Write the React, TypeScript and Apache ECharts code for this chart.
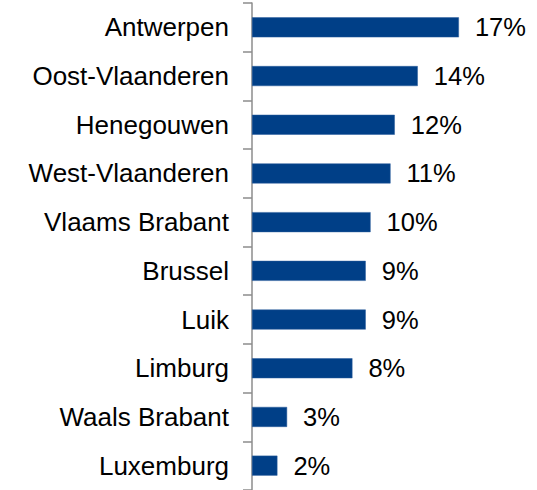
import React, { useEffect, useRef } from "react";
import * as echarts from "echarts";

const categories = [
  "Antwerpen",
  "Oost-Vlaanderen",
  "Henegouwen",
  "West-Vlaanderen",
  "Vlaams Brabant",
  "Brussel",
  "Luik",
  "Limburg",
  "Waals Brabant",
  "Luxemburg",
];
const values = [17.1, 13.7, 11.8, 11.45, 9.8, 9.4, 9.4, 8.3, 2.9, 2.1];

export default function App() {
  const ref = useRef<HTMLDivElement>(null);
  useEffect(() => {
    const chart = echarts.init(ref.current!, undefined, { renderer: "svg" });
    chart.setOption({
      animation: false,
      grid: { left: 252, right: 43, top: 3, bottom: 0, containLabel: false },
      xAxis: { type: "value", min: 0, max: 20, show: false },
      yAxis: {
        type: "category",
        inverse: true,
        data: categories,
        axisLine: { show: true, lineStyle: { color: "#8c8c8c", width: 1.5 } },
        axisTick: { show: true, length: 9, lineStyle: { color: "#8c8c8c", width: 1.5 } },
        axisLabel: {
          margin: 23,
          fontSize: 26,
          color: "#000",
          fontFamily: "Liberation Sans, Arial, sans-serif",
        },
        splitLine: { show: false },
      },
      series: [
        {
          type: "bar",
          data: values,
          barWidth: 20,
          itemStyle: { color: "#003F87", borderColor: "#2a5d9c", borderWidth: 0.5 },
          label: {
            show: true,
            position: "right",
            distance: 16,
            fontSize: 25.5,
            color: "#000",
            fontFamily: "Liberation Sans, Arial, sans-serif",
            formatter: (p: any) => Math.round(p.value) + "%",
          },
        },
      ],
    });
    return () => chart.dispose();
  }, []);
  return <div ref={ref} style={{ width: 537, height: 490, position: "absolute", left: 0, top: 0 }} />;
}
